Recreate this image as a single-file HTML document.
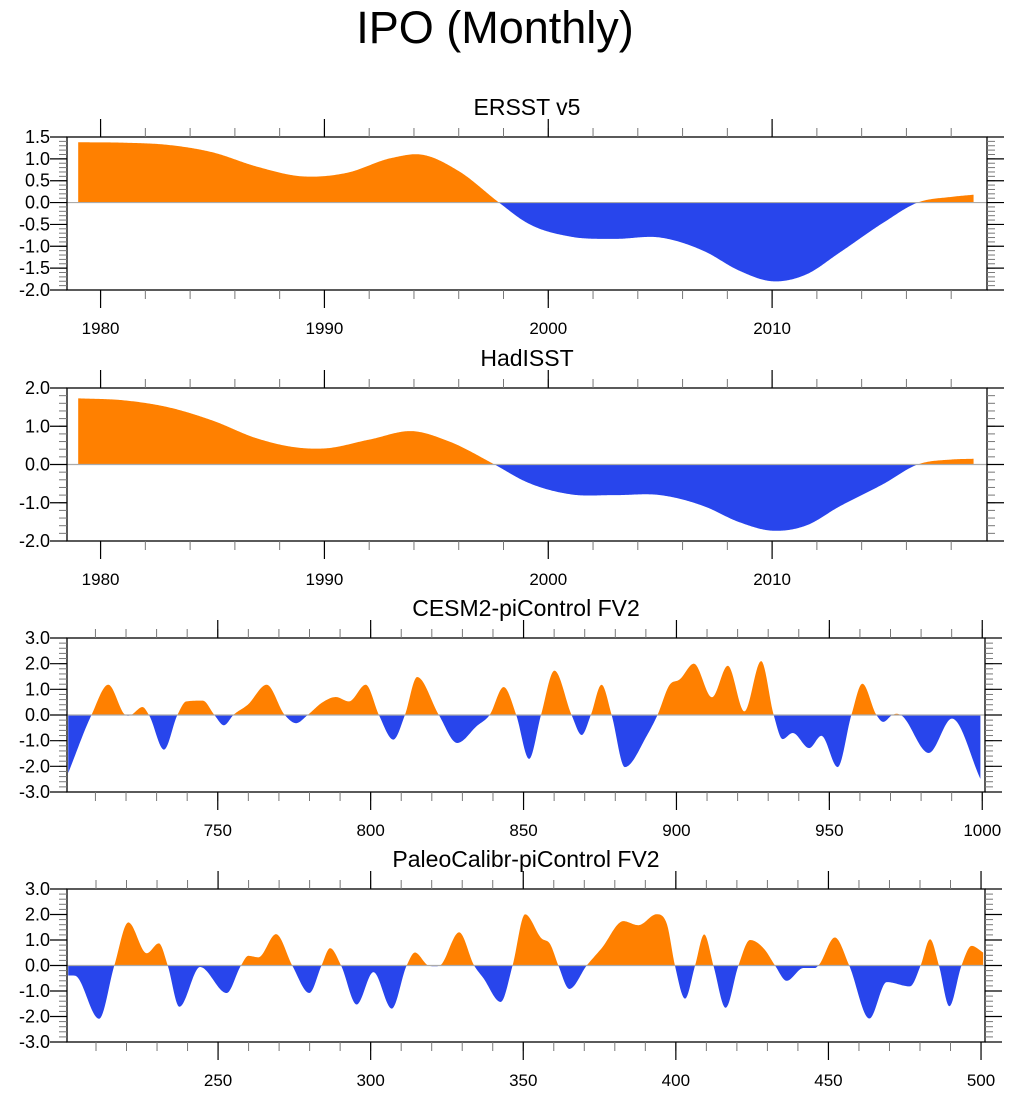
<!DOCTYPE html>
<html><head><meta charset="utf-8"><style>
html,body{margin:0;padding:0;background:#fff;}
svg text{font-family:"Liberation Sans",sans-serif;fill:#000;}
</style></head><body>
<svg id="chart" width="1013" height="1094" viewBox="0 0 1013 1094" xmlns="http://www.w3.org/2000/svg">
<text x="495" y="43" font-size="45" text-anchor="middle">IPO (Monthly)</text>
</svg>
<script>
// ERSST v5
const p1Years=[1979,1981,1983,1985,1987,1989,1991,1993,1994.3,1996,1997.8,1999,2001,2003,2005,2007,2008.5,2010,2011.5,2013,2015,2016.5,2018,2019];
const p1Vals=[1.38,1.37,1.32,1.15,0.82,0.60,0.68,1.02,1.10,0.72,0,-0.45,-0.78,-0.83,-0.80,-1.12,-1.55,-1.80,-1.65,-1.15,-0.45,0,0.13,0.18];
// HadISST
const p2Years=[1979,1981,1983,1985,1987,1989,1990,1992,1994,1995.5,1997.6,1999,2001,2003,2005,2007,2008.5,2010,2011.5,2013,2015,2016.5,2018,2019];
const p2Vals=[1.73,1.68,1.50,1.15,0.68,0.43,0.42,0.65,0.87,0.62,0,-0.45,-0.78,-0.80,-0.80,-1.10,-1.50,-1.73,-1.60,-1.10,-0.50,0,0.13,0.15];
// CESM2-piControl FV2
const p3Years=[701.1,708.7,714.2,719.8,720.7,721.6,725.4,727.5,732.4,736.8,739.7,745.1,748.9,752,755.1,759.8,766,771.9,775.6,779.4,784.2,788.6,792.9,798.4,802.7,807.4,811.2,815.2,822.3,828.3,834.8,838.9,843.5,847.6,851.8,855.7,860.1,865.7,869,872,875.5,878.8,883.1,890.2,893.8,897.8,901,905.7,911.6,916.8,922.2,927.7,931.8,934.7,938,943.4,947.4,952.7,957.2,960.8,965.4,967.6,970.6,972,973.3,982.5,990.1,999.4];
const p3Vals=[-2.26,0,1.18,0,-0.03,0,0.31,0,-1.35,0,0.53,0.56,0,-0.40,0,0.40,1.18,0,-0.32,0,0.49,0.70,0.53,1.18,0,-0.96,0,1.48,0,-1.09,-0.42,0,1.09,0,-1.71,0,1.73,0,-0.78,0,1.18,0,-2.03,-0.83,0,1.18,1.38,2.0,0.69,1.92,0.14,2.1,0,-0.94,-0.70,-1.29,-0.81,-2.03,0,1.22,0,-0.27,0,0.05,0,-1.48,-0.14,-2.49];
// PaleoCalibr-piControl FV2
const p4Years=[200.9,203.1,211,216,220.6,226.6,230.6,233.5,237.3,244.1,252.8,257.5,259.9,263.2,269,274.3,279.9,283.9,286.7,290.3,295.4,300.9,306.9,311.8,314.5,318.9,321.1,322.7,329,333.9,336.9,342.6,346.5,350.6,356,358.8,361.5,365.1,370.8,375.7,382.8,387.7,393.7,397,399.7,403,406.3,409.3,412.3,416.3,420.5,424.3,429.2,432.5,436.3,441.8,445.6,446.7,452.1,456.8,463.4,469.1,476.7,480.2,483.3,486.2,489.6,493.6,496.9,500.7];
const p4Vals=[-0.39,-0.40,-2.09,0,1.69,0.48,0.87,0,-1.62,-0.06,-1.08,0,0.38,0.32,1.23,0,-1.08,0,0.68,0,-1.53,-0.26,-1.69,0,0.51,0,-0.03,0,1.30,0,-0.49,-1.43,0,2.01,1.06,0.84,0,-0.92,0,0.68,1.74,1.58,2.01,1.65,0,-1.30,0,1.22,0,-1.66,0,1.0,0.61,0,-0.60,-0.10,-0.10,0,1.10,0,-2.08,-0.65,-0.82,0,1.03,0,-1.60,0,0.77,0.51];

const p1XTicks=[1980,1990,2000,2010];
const p1YTicks=[1.5,1.0,0.5,0.0,-0.5,-1.0,-1.5,-2.0];
const p2YTicks=[2.0,1.0,0.0,-1.0,-2.0];
const p3XTicks=[750,800,850,900,950,1000];
const p4XTicks=[250,300,350,400,450,500];
const p34YTicks=[3.0,2.0,1.0,0.0,-1.0,-2.0,-3.0];

const NS="http://www.w3.org/2000/svg";
const svg=document.getElementById('chart');
function mk(tag,attrs,parent){const e=document.createElementNS(NS,tag);for(const k in attrs)e.setAttribute(k,attrs[k]);(parent||svg).appendChild(e);return e;}

function spline(xs,ys,smooth){
  const n=xs.length,d=[],m=new Array(n);
  for(let i=0;i<n-1;i++)d.push((ys[i+1]-ys[i])/(xs[i+1]-xs[i]));
  m[0]=d[0];m[n-1]=d[n-2];
  for(let i=1;i<n-1;i++){
    const h0=xs[i]-xs[i-1],h1=xs[i+1]-xs[i];
    const avg=(d[i-1]*h1+d[i]*h0)/(h0+h1);
    if(!smooth && d[i-1]*d[i]<=0)m[i]=0; else m[i]=avg;
  }
  if(!smooth){for(let i=0;i<n-1;i++){ if(d[i]===0){m[i]=0;m[i+1]=0;continue;}
    const a=m[i]/d[i],b=m[i+1]/d[i],s=a*a+b*b; if(s>9){const t=3/Math.sqrt(s);m[i]=t*a*d[i];m[i+1]=t*b*d[i];}}}
  return function(x){let i=0;while(i<n-2&&x>xs[i+1])i++;const h=xs[i+1]-xs[i],t=(x-xs[i])/h;
    const h00=2*t*t*t-3*t*t+1,h10=t*t*t-2*t*t+t,h01=-2*t*t*t+3*t*t,h11=t*t*t-t*t;
    return h00*ys[i]+h10*h*m[i]+h01*ys[i+1]+h11*h*m[i+1];};
}

let clipId=0;
function panel(o){
  const g=mk('g',{});
  
  
  const sx=v=>o.x0+(v-o.xmin)/(o.xmax-o.xmin)*(o.x1-o.x0);
  const sy=v=>o.y0+(o.ymax-v)/(o.ymax-o.ymin)*(o.y1-o.y0);
  const t=mk('text',{x:(o.x0+o.x1)/2,y:o.y0-22,'font-size':23,'text-anchor':'middle'},g);
  t.textContent=o.title;
  
  
  const f=spline(o.xs,o.ys,o.smooth);
  const a=o.xs[0],b=o.xs[o.xs.length-1];
  let d='M'+sx(a)+','+sy(0);
  const N=900;for(let i=0;i<=N;i++){const x=a+(b-a)*i/N;d+=' L'+sx(x).toFixed(2)+','+sy(f(x)).toFixed(2);}
  d+=' L'+sx(b)+','+sy(0)+' Z';
  const z=sy(0);
  const cp=mk('clipPath',{id:'cp'+clipId},g);mk('rect',{x:o.x0,y:o.y0,width:o.x1-o.x0,height:z-o.y0},cp);
  const cn=mk('clipPath',{id:'cn'+clipId},g);mk('rect',{x:o.x0,y:z,width:o.x1-o.x0,height:o.y1-z},cn);
  const pos=mk('path',{d:d,fill:'#ff8000','clip-path':'url(#cp'+clipId+')'},g);
  
  
  const neg=mk('path',{d:d,fill:'#2845ec','clip-path':'url(#cn'+clipId+')'},g);
  
  
  clipId++;
  const zl=mk('line',{x1:o.x0,x2:o.x1,y1:z,y2:z,stroke:'#aaa','stroke-width':1.2},g);
  
  
  const frame=mk('rect',{x:o.x0,y:o.y0,width:o.x1-o.x0,height:o.y1-o.y0,fill:'none',stroke:'#000','stroke-width':1.3},g);
  
  
  for(let v=o.ymin;v<=o.ymax+1e-9;v+=o.yminor){const y=sy(v);
    mk('line',{x1:o.x0-8,x2:o.x0,y1:y,y2:y,stroke:'#777','stroke-width':1},g);
    mk('line',{x1:o.x1,x2:o.x1+8,y1:y,y2:y,stroke:'#777','stroke-width':1},g);}
  o.yticks.forEach(v=>{const y=sy(v);
    mk('line',{x1:o.x0-17,x2:o.x0,y1:y,y2:y,stroke:'#000','stroke-width':1.2},g);
    mk('line',{x1:o.x1,x2:o.x1+17,y1:y,y2:y,stroke:'#000','stroke-width':1.2},g);
    const l=mk('text',{x:o.x0-17,y:y+6,'font-size':18,'text-anchor':'end'},g);
    l.textContent=v.toFixed(1);
    
    });
  const xs0=Math.ceil(o.xmin/o.xminor)*o.xminor;
  for(let v=xs0;v<=o.xmax;v+=o.xminor){const x=sx(v);
    mk('line',{x1:x,x2:x,y1:o.y0-9,y2:o.y0,stroke:'#777','stroke-width':1},g);
    mk('line',{x1:x,x2:x,y1:o.y1,y2:o.y1+9,stroke:'#777','stroke-width':1},g);}
  o.xticks.forEach(v=>{const x=sx(v);
    mk('line',{x1:x,x2:x,y1:o.y0-18,y2:o.y0,stroke:'#000','stroke-width':1.2},g);
    mk('line',{x1:x,x2:x,y1:o.y1,y2:o.y1+18,stroke:'#000','stroke-width':1.2},g);
    const l=mk('text',{x:x,y:o.y1+44,'font-size':17,'text-anchor':'middle'},g);
    l.textContent=v;
    
    });
}
panel({name:'ersst-panel',title:'ERSST v5',smooth:true,x0:67,x1:987,y0:137,y1:290,xmin:1978.5,xmax:2019.6,ymin:-2,ymax:1.5,yminor:0.1,xminor:2,xticks:p1XTicks,yticks:p1YTicks,xs:p1Years,ys:p1Vals});
panel({name:'hadisst-panel',title:'HadISST',smooth:true,x0:67,x1:987,y0:388,y1:541,xmin:1978.5,xmax:2019.6,ymin:-2,ymax:2,yminor:0.2,xminor:2,xticks:p1XTicks,yticks:p2YTicks,xs:p2Years,ys:p2Vals});
panel({name:'cesm2-panel',title:'CESM2-piControl FV2',smooth:false,x0:67,x1:985,y0:638,y1:792,xmin:700.7,xmax:1000.9,ymin:-3,ymax:3,yminor:0.2,xminor:10,xticks:p3XTicks,yticks:p34YTicks,xs:p3Years,ys:p3Vals});
panel({name:'paleocalibr-panel',title:'PaleoCalibr-piControl FV2',smooth:false,x0:67,x1:985,y0:889,y1:1042,xmin:200.5,xmax:501.3,ymin:-3,ymax:3,yminor:0.2,xminor:10,xticks:p4XTicks,yticks:p34YTicks,xs:p4Years,ys:p4Vals});
</script>
</body></html>
